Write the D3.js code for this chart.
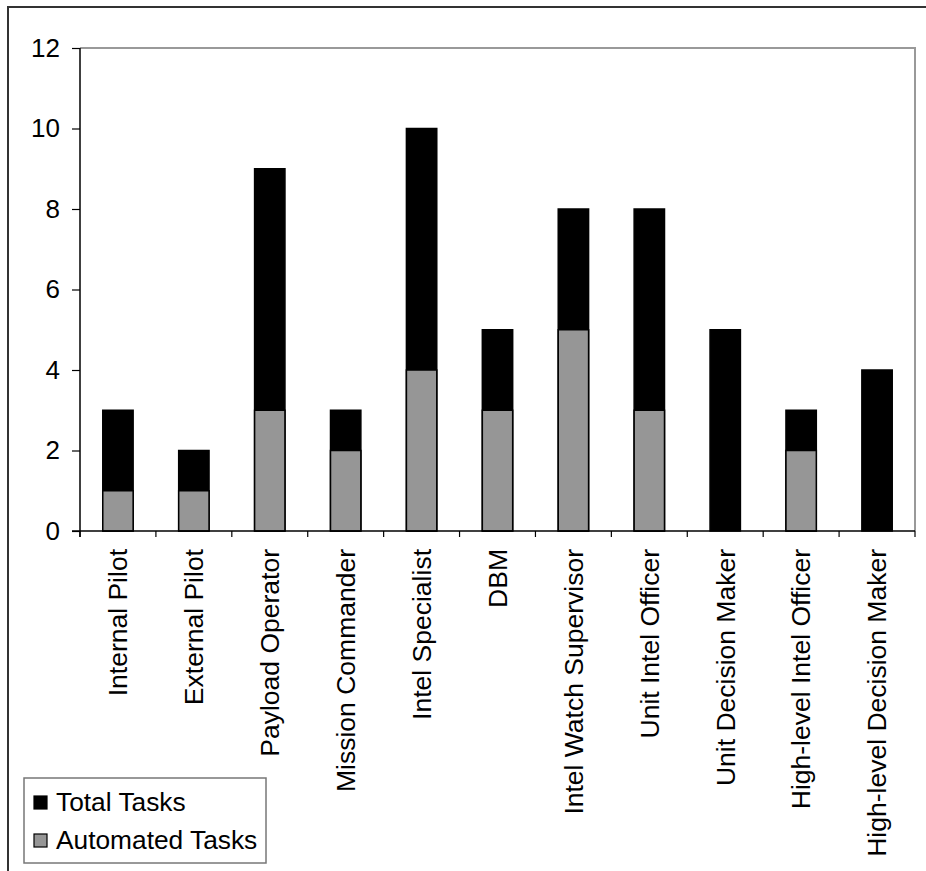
<!DOCTYPE html>
<html>
<head>
<meta charset="utf-8">
<script src="https://cdn.jsdelivr.net/npm/d3@7"></script>
<style>
  html, body { margin: 0; padding: 0; background: #fff; }
  svg { display: block; font-family: "Liberation Sans", Arial, sans-serif; }
</style>
</head>
<body>
<svg id="chart" width="926" height="871"></svg>
<script>
// Roles and their task counts
const categories = [
  "Internal Pilot", "External Pilot", "Payload Operator", "Mission Commander",
  "Intel Specialist", "DBM", "Intel Watch Supervisor", "Unit Intel Officer",
  "Unit Decision Maker", "High-level Intel Officer", "High-level Decision Maker"
];
const totalTasks     = [3, 2, 9, 3, 10, 5, 8, 8, 5, 3, 4];
const automatedTasks = [1, 1, 3, 2, 4, 3, 5, 3, 0, 2, 0];
const yTicks = [0, 2, 4, 6, 8, 10, 12];
const seriesNames = ["Total Tasks", "Automated Tasks"];
const seriesColors = ["#000000", "#969696"];

const svg = d3.select("#chart");
const plot = { left: 80, right: 915, top: 48, bottom: 531 };

const x = d3.scaleBand().domain(categories).range([plot.left, plot.right]);
const y = d3.scaleLinear().domain([0, 12]).range([plot.bottom, plot.top]);
const barW = x.bandwidth() * 0.4;

// Outer frame (top and left edges)
svg.append("path")
  .attr("d", "M8,871 L8,7 L926,7")
  .attr("fill", "none").attr("stroke", "#333").attr("stroke-width", 2);

// Plot area border on top and right
svg.append("path")
  .attr("d", `M${plot.left},${plot.top} L${plot.right},${plot.top} L${plot.right},${plot.bottom}`)
  .attr("fill", "none").attr("stroke", "#999").attr("stroke-width", 2);

// Bars: total behind, automated in front, same position
const g = svg.append("g");
g.selectAll("rect.total").data(categories).join("rect")
  .attr("class", "total")
  .attr("x", d => x(d) + (x.bandwidth() - barW) / 2)
  .attr("y", (d, i) => y(totalTasks[i]))
  .attr("width", barW)
  .attr("height", (d, i) => y(0) - y(totalTasks[i]))
  .attr("fill", seriesColors[0]).attr("stroke", "#000").attr("stroke-width", 1.5);

g.selectAll("rect.auto").data(categories.filter((d, i) => automatedTasks[i] > 0)).join("rect")
  .attr("class", "auto")
  .attr("x", d => x(d) + (x.bandwidth() - barW) / 2)
  .attr("y", d => y(automatedTasks[categories.indexOf(d)]))
  .attr("width", barW)
  .attr("height", d => y(0) - y(automatedTasks[categories.indexOf(d)]))
  .attr("fill", seriesColors[1]).attr("stroke", "#000").attr("stroke-width", 1.5);

// Y axis
const yAxis = svg.append("g").attr("transform", `translate(${plot.left},0)`)
  .call(d3.axisLeft(y).tickValues(yTicks).tickSize(8).tickPadding(12).tickFormat(d3.format("d")));
yAxis.select(".domain").attr("d", `M0,${plot.top}V${plot.bottom + 6}`).attr("stroke", "#000").attr("stroke-width", 1.5);
yAxis.selectAll(".tick line").attr("stroke", "#000").attr("stroke-width", 1.2);
yAxis.selectAll(".tick text").attr("font-size", 26).attr("fill", "#000")
  .attr("font-family", "'Liberation Sans', Arial, sans-serif");

// X axis baseline, boundary ticks and rotated labels
const xg = svg.append("g");
xg.append("line")
  .attr("x1", plot.left - 8).attr("x2", plot.right)
  .attr("y1", plot.bottom).attr("y2", plot.bottom)
  .attr("stroke", "#000").attr("stroke-width", 1.5);
const bounds = categories.map(d => x(d)).concat([plot.right]);
xg.selectAll("line.tk").data(bounds).join("line")
  .attr("class", "tk")
  .attr("x1", d => d).attr("x2", d => d)
  .attr("y1", plot.bottom).attr("y2", plot.bottom + 6)
  .attr("stroke", "#000").attr("stroke-width", 1.2);
xg.selectAll("text").data(categories).join("text")
  .attr("transform", d => `translate(${x(d) + x.bandwidth() / 2},${plot.bottom + 18}) rotate(-90)`)
  .attr("text-anchor", "end")
  .attr("dy", "0.35em")
  .attr("font-size", 26.5)
  .attr("fill", "#000")
  .text(d => d);

// Legend
const lg = svg.append("g");
lg.append("rect")
  .attr("x", 24).attr("y", 778).attr("width", 242).attr("height", 85)
  .attr("fill", "#fff").attr("stroke", "#777").attr("stroke-width", 1.5);
seriesNames.forEach((name, i) => {
  const cy = 802 + i * 38;
  lg.append("rect")
    .attr("x", 34).attr("y", cy - 6).attr("width", 13).attr("height", 13)
    .attr("fill", seriesColors[i]).attr("stroke", "#000").attr("stroke-width", 1.2);
  lg.append("text")
    .attr("x", 56).attr("y", cy).attr("dy", "0.35em")
    .attr("font-size", 26.3).attr("fill", "#000")
    .text(name);
});
</script>
</body>
</html>
